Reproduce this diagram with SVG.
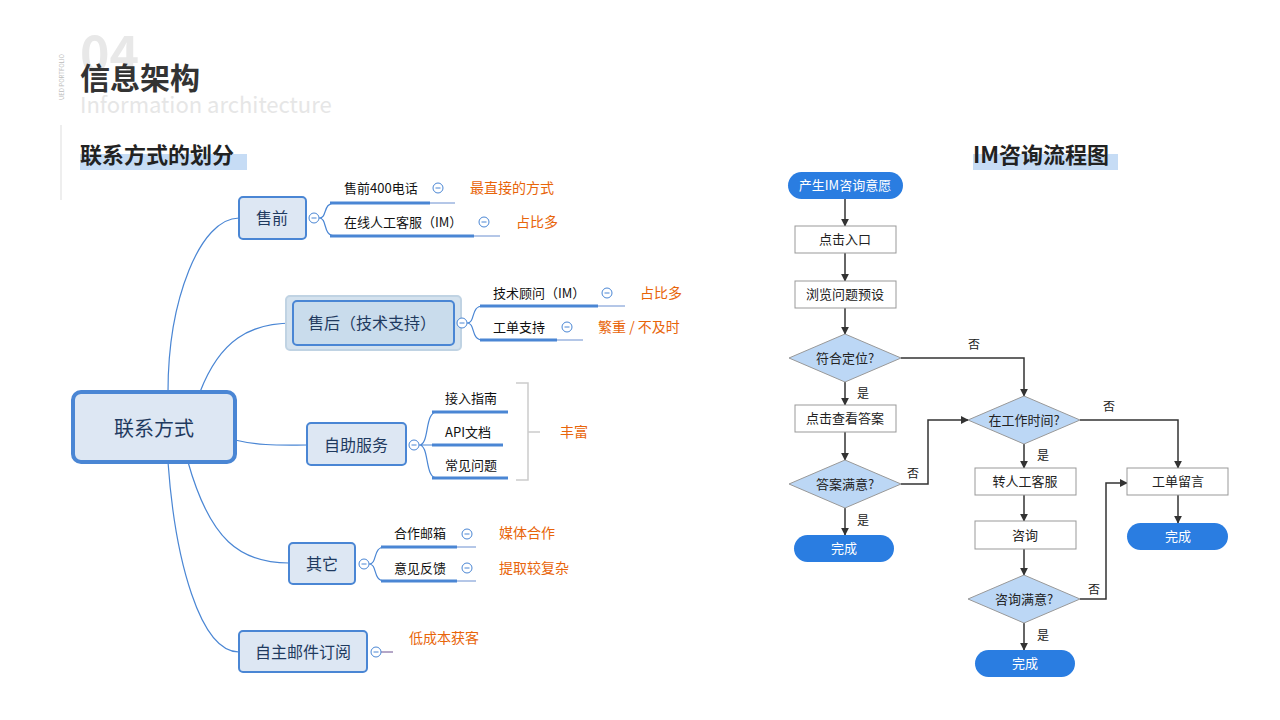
<svg xmlns="http://www.w3.org/2000/svg" width="1280" height="720" viewBox="0 0 1280 720">
<defs>
<marker id="ah" viewBox="0 0 10 10" refX="9" refY="5" markerWidth="8" markerHeight="8" orient="auto" markerUnits="userSpaceOnUse"><path d="M0,0 L10,5 L0,10 z" fill="#333"/></marker>
<g id="mn"><circle cx="0" cy="0" r="5" fill="#fff" stroke="#4a86d4" stroke-width="1"/><line x1="-2.5" y1="0" x2="2.5" y2="0" stroke="#4a86d4" stroke-width="1"/></g>
<style>
text{font-family:"Noto Sans CJK SC","Liberation Sans",sans-serif}
.node rect.b{fill:#dde7f3;stroke:#4a86d4;stroke-width:2}
.mt{font-size:16px;fill:#1f3a5f;text-anchor:middle}
.st{font-size:13px;fill:#111}
.or{font-size:14px;fill:#e8650a}
.tk{stroke:#4a86d4;stroke-width:3}
.tn{stroke:#6a8fd0;stroke-width:1}
.br{fill:none;stroke:#4a86d4;stroke-width:1.2}
.fr{fill:#fff;stroke:#999;stroke-width:1}
.fd{fill:#bcd7f5;stroke:#999;stroke-width:1}
.ft{fill:#2a7de1}
.fx{font-size:13px;fill:#222;text-anchor:middle}
.fw{font-size:13px;fill:#fff;text-anchor:middle}
.fl{font-size:12px;fill:#222}
.ed{fill:none;stroke:#333;stroke-width:1.5}
</style>
</defs>
<rect width="1280" height="720" fill="#fff"/>
<!-- header -->
<text x="80" y="72" font-size="50" font-weight="bold" fill="#e8e8e8" font-family="Liberation Sans, sans-serif">04</text>
<text x="80" y="89" font-size="30" font-weight="bold" fill="#333">信息架构</text>
<text x="80" y="113" font-size="22" fill="#e6e6e6" font-family="Liberation Sans, sans-serif">Information architecture</text>
<text transform="translate(64,100) rotate(-90)" font-size="6" fill="#bbb" font-family="Liberation Sans, sans-serif">UED PORTFOLIO</text>
<line x1="61" y1="125" x2="61" y2="200" stroke="#ddd" stroke-width="1"/>
<rect x="80" y="154" width="167" height="16" fill="#c6dcf5"/>
<text x="80" y="163" font-size="22" font-weight="bold" fill="#222">联系方式的划分</text>
<rect x="973" y="154" width="145" height="16" fill="#c6dcf5"/>
<text x="973" y="163" font-size="22" font-weight="bold" fill="#222">IM咨询流程图</text>

<g id="mm-connectors">
<path class="br" d="M168,392 C168,300 200,218 239,218"/>
<path class="br" d="M200,392 C220,340 250,323 293,323"/>
<path class="br" d="M235,440 C260,446 280,445 307,445"/>
<path class="br" d="M188,462 C210,540 240,563 289,563"/>
<path class="br" d="M168,462 C175,560 200,652 239,652"/>
<path class="br" d="M319,218 C328,218 322,203 335,203 M319,218 C328,218 322,236 335,236"/>
<path class="br" d="M467,323 C476,323 470,306 483,306 M467,323 C476,323 470,340 483,340"/>
<path class="br" d="M419,445 C430,445 424,412 437,412 M419,445 L437,445 M419,445 C430,445 424,478 437,478"/>
<path class="br" d="M369,564 C378,564 372,547 385,547 M369,564 C378,564 372,581 385,581"/>
<line x1="381" y1="652" x2="393" y2="652" stroke="#6a4f8f" stroke-width="1"/>
</g>

<g id="root" class="node"><rect x="73" y="392" width="162" height="70" rx="8" fill="#dde7f3" stroke="#4a86d4" stroke-width="4"/><text x="154" y="436" font-size="20" fill="#1f3a5f" text-anchor="middle">联系方式</text></g>

<g id="n-pre" class="node"><rect class="b" x="239" y="197" width="67" height="42" rx="4"/><text class="mt" x="272" y="224">售前</text><use href="#mn" x="314" y="218"/></g>
<g id="n-pre1"><line class="tk" x1="330" y1="203" x2="430" y2="203"/><line class="tn" x1="430" y1="203" x2="455" y2="203"/><text class="st" x="344" y="193">售前400电话</text><use href="#mn" x="438" y="188"/><text class="or" x="470" y="193">最直接的方式</text></g>
<g id="n-pre2"><line class="tk" x1="330" y1="236" x2="474" y2="236"/><line class="tn" x1="474" y1="236" x2="500" y2="236"/><text class="st" x="344" y="227">在线人工客服（IM）</text><use href="#mn" x="484" y="222"/><text class="or" x="516" y="227">占比多</text></g>

<g id="n-post" class="node"><rect x="286" y="296" width="175" height="54" rx="4" fill="#d4e2ee" stroke="#c0d3e3" stroke-width="2"/><rect x="293" y="301" width="161" height="44" rx="4" fill="#c9dcec" stroke="#4a86d4" stroke-width="2"/><text class="mt" x="372" y="329">售后（技术支持）</text><use href="#mn" x="462" y="323"/></g>
<g id="n-post1"><line class="tk" x1="480" y1="306" x2="598" y2="306"/><line class="tn" x1="598" y1="306" x2="625" y2="306"/><text class="st" x="493" y="298">技术顾问（IM）</text><use href="#mn" x="607" y="293"/><text class="or" x="640" y="298">占比多</text></g>
<g id="n-post2"><line class="tk" x1="480" y1="340" x2="557" y2="340"/><line class="tn" x1="557" y1="340" x2="583" y2="340"/><text class="st" x="493" y="332">工单支持</text><use href="#mn" x="567" y="327"/><text class="or" x="598" y="332">繁重 / 不及时</text></g>

<g id="n-self" class="node"><rect class="b" x="307" y="423" width="99" height="42" rx="4"/><text class="mt" x="356" y="451">自助服务</text><use href="#mn" x="414" y="445"/></g>
<g id="n-self1"><line class="tk" x1="432" y1="412" x2="508" y2="412"/><text class="st" x="445" y="403">接入指南</text></g>
<g id="n-self2"><line class="tk" x1="432" y1="445" x2="503" y2="445"/><text class="st" x="445" y="437">API文档</text></g>
<g id="n-self3"><line class="tk" x1="432" y1="478" x2="508" y2="478"/><text class="st" x="445" y="470">常见问题</text></g>
<g id="bracket"><path d="M516,383 H528 V480 H516 M528,432 H540" fill="none" stroke="#ccc" stroke-width="1.5"/><text class="or" x="560" y="437">丰富</text></g>

<g id="n-other" class="node"><rect class="b" x="289" y="543" width="66" height="41" rx="4"/><text class="mt" x="322" y="570">其它</text><use href="#mn" x="364" y="564"/></g>
<g id="n-other1"><line class="tk" x1="381" y1="547" x2="457" y2="547"/><line class="tn" x1="457" y1="547" x2="476" y2="547"/><text class="st" x="394" y="538">合作邮箱</text><use href="#mn" x="467" y="534"/><text class="or" x="499" y="538">媒体合作</text></g>
<g id="n-other2"><line class="tk" x1="381" y1="581" x2="457" y2="581"/><line class="tn" x1="457" y1="581" x2="476" y2="581"/><text class="st" x="394" y="573">意见反馈</text><use href="#mn" x="467" y="568"/><text class="or" x="499" y="573">提取较复杂</text></g>

<g id="n-mail" class="node"><rect class="b" x="239" y="631" width="128" height="41" rx="4"/><text class="mt" x="303" y="658">自主邮件订阅</text><use href="#mn" x="376" y="652"/><text class="or" x="409" y="643">低成本获客</text></g>

<g id="fc-connectors">
<line class="ed" x1="845" y1="199" x2="845" y2="226" marker-end="url(#ah)"/>
<line class="ed" x1="845" y1="253" x2="845" y2="281" marker-end="url(#ah)"/>
<line class="ed" x1="845" y1="308" x2="845" y2="334" marker-end="url(#ah)"/>
<line class="ed" x1="845" y1="382" x2="845" y2="405" marker-end="url(#ah)"/>
<line class="ed" x1="845" y1="432" x2="845" y2="460" marker-end="url(#ah)"/>
<line class="ed" x1="845" y1="508" x2="845" y2="535" marker-end="url(#ah)"/>
<polyline class="ed" points="901,358 1024,358 1024,396" marker-end="url(#ah)"/>
<polyline class="ed" points="901,484 928,484 928,420 968,420" marker-end="url(#ah)"/>
<line class="ed" x1="1024" y1="444" x2="1024" y2="468" marker-end="url(#ah)"/>
<line class="ed" x1="1024" y1="495" x2="1024" y2="521" marker-end="url(#ah)"/>
<line class="ed" x1="1024" y1="549" x2="1024" y2="575" marker-end="url(#ah)"/>
<line class="ed" x1="1024" y1="623" x2="1024" y2="650" marker-end="url(#ah)"/>
<polyline class="ed" points="1080,420 1178,420 1178,468" marker-end="url(#ah)"/>
<polyline class="ed" points="1080,599 1106,599 1106,483 1127,483" marker-end="url(#ah)"/>
<line class="ed" x1="1178" y1="495" x2="1178" y2="523" marker-end="url(#ah)"/>
<text class="fl" x="857" y="398">是</text>
<text class="fl" x="857" y="525">是</text>
<text class="fl" x="968" y="349">否</text>
<text class="fl" x="907" y="478">否</text>
<text class="fl" x="1037" y="460">是</text>
<text class="fl" x="1037" y="640">是</text>
<text class="fl" x="1103" y="411">否</text>
<text class="fl" x="1088" y="594">否</text>
</g>

<g id="f-start"><rect class="ft" x="788" y="172" width="115" height="27" rx="13.5"/><text class="fw" x="845" y="190">产生IM咨询意愿</text></g>
<g id="f-click"><rect class="fr" x="795" y="226" width="101" height="27"/><text class="fx" x="845" y="244">点击入口</text></g>
<g id="f-browse"><rect class="fr" x="795" y="281" width="101" height="27"/><text class="fx" x="845" y="299">浏览问题预设</text></g>
<g id="f-fit"><polygon class="fd" points="789,358 845,334 901,358 845,382"/><text class="fx" x="845" y="363">符合定位?</text></g>
<g id="f-view"><rect class="fr" x="795" y="405" width="101" height="27"/><text class="fx" x="845" y="423">点击查看答案</text></g>
<g id="f-sat"><polygon class="fd" points="789,484 845,460 901,484 845,508"/><text class="fx" x="845" y="489">答案满意?</text></g>
<g id="f-done1"><rect class="ft" x="794" y="535" width="100" height="27" rx="13.5"/><text class="fw" x="844" y="553">完成</text></g>
<g id="f-work"><polygon class="fd" points="968,420 1024,396 1080,420 1024,444"/><text class="fx" x="1024" y="425">在工作时间?</text></g>
<g id="f-human"><rect class="fr" x="975" y="468" width="101" height="27"/><text class="fx" x="1025" y="486">转人工客服</text></g>
<g id="f-consult"><rect class="fr" x="975" y="521" width="101" height="28"/><text class="fx" x="1025" y="540">咨询</text></g>
<g id="f-csat"><polygon class="fd" points="968,599 1024,575 1080,599 1024,623"/><text class="fx" x="1024" y="604">咨询满意?</text></g>
<g id="f-done2"><rect class="ft" x="975" y="650" width="100" height="27" rx="13.5"/><text class="fw" x="1025" y="668">完成</text></g>
<g id="f-ticket"><rect class="fr" x="1127" y="468" width="101" height="27"/><text class="fx" x="1178" y="486">工单留言</text></g>
<g id="f-done3"><rect class="ft" x="1127" y="523" width="101" height="27" rx="13.5"/><text class="fw" x="1178" y="541">完成</text></g>
</svg>
